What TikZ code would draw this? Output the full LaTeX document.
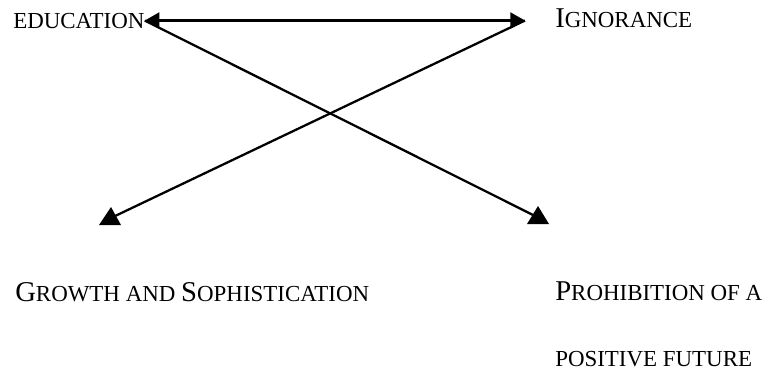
\documentclass[tikz,border=0pt]{standalone}
\usepackage{fontspec}
\setmainfont{Liberation Serif}
\usetikzlibrary{arrows.meta}
\def\Lcap#1{{\fontsize{21.5}{26}\selectfont #1}}

\begin{document}
\begin{tikzpicture}[x=0.75pt,y=-0.75pt,
		>={Triangle[length=11pt,width=12pt]},
		lbl/.style={anchor=base west,inner sep=0pt,font=\fontsize{17.2}{20}\selectfont},
		arr/.style={line width=0.6mm},
		head/.style={fill=black}]
			%%%%% START %%%%%
			
			\useasboundingbox (0,0) rectangle (773,376);
			
			\node[lbl] (edu) at (13,28) {EDUCATION};
			\node[lbl] (ign) at (555,27) {\Lcap{I}GNORANCE};
			\node[lbl] (grow) at (15,301) {\Lcap{G}ROWTH AND \Lcap{S}OPHISTICATION};
			\node[lbl,align=left,font=\fontsize{17.2}{49.5}\selectfont] (proh) at (555,366) {\Lcap{P}ROHIBITION OF A\\POSITIVE FUTURE};
			
			\coordinate[xshift=-22.5pt] (ignTip) at (ign.west |- edu.east);
			\coordinate (endL) at (113,217);
			\coordinate (endR) at (535,216);
			
			\draw[arr,<->] (edu.east) -- (ignTip);
			\draw[arr] (edu.east) -- (endR);
			\draw[arr] (ignTip) -- (endL);
			
			% upright heads, as in the scan
			\fill[head] (99,225) -- (121,225) -- (111,207) -- cycle;
			\fill[head] (527,224) -- (549,224) -- (538,206) -- cycle;
			
			%%%%% END %%%%%
\end{tikzpicture}
\end{document}
